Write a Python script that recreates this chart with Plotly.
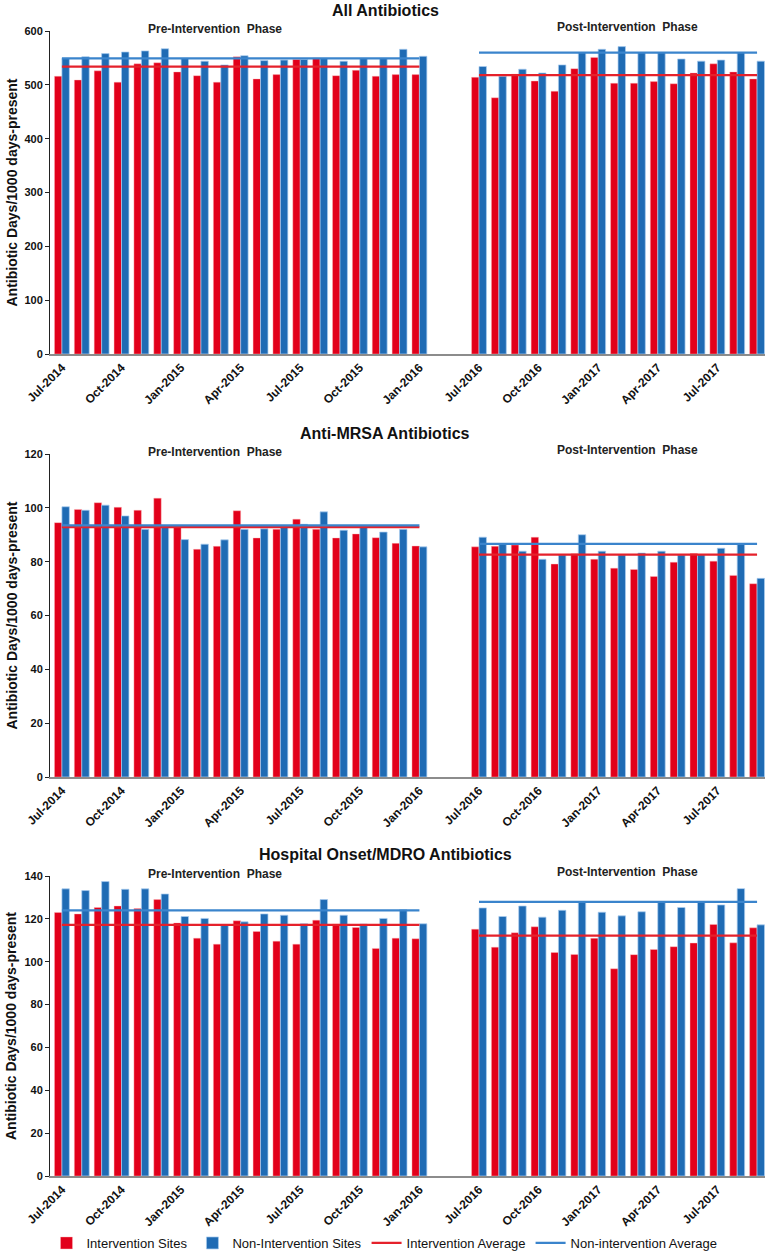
import plotly.graph_objects as go

# ---------------- data ----------------
pre_months = ["Jul-2014", "Aug-2014", "Sep-2014", "Oct-2014", "Nov-2014", "Dec-2014",
              "Jan-2015", "Feb-2015", "Mar-2015", "Apr-2015", "May-2015", "Jun-2015",
              "Jul-2015", "Aug-2015", "Sep-2015", "Oct-2015", "Nov-2015", "Dec-2015",
              "Jan-2016"]
post_months = ["Jul-2016", "Aug-2016", "Sep-2016", "Oct-2016", "Nov-2016", "Dec-2016",
               "Jan-2017", "Feb-2017", "Mar-2017", "Apr-2017", "May-2017", "Jun-2017",
               "Jul-2017", "Aug-2017", "Sep-2017"]

panel_titles = ["All Antibiotics", "Anti-MRSA Antibiotics", "Hospital Onset/MDRO Antibiotics"]
y_max = [600, 120, 140]
y_step = [100, 20, 20]

# All Antibiotics
all_int_pre = [516, 509, 526, 505, 539, 541, 524, 517, 505, 552, 511, 519, 547, 550, 517, 527, 516, 519, 519]
all_non_pre = [549, 552, 558, 561, 563, 567, 549, 544, 537, 554, 545, 546, 547, 549, 544, 549, 549, 566, 553]
all_int_post = [514, 476, 520, 507, 488, 530, 551, 503, 503, 506, 502, 522, 539, 524, 511]
all_non_post = [534, 516, 529, 522, 537, 560, 566, 571, 560, 560, 548, 544, 546, 560, 544]
all_avg = {"int_pre": 534, "non_pre": 549, "int_post": 518, "non_post": 560}

# Anti-MRSA Antibiotics
mrsa_int_pre = [94.5, 99.4, 101.9, 100.2, 99.1, 103.6, 93.2, 84.6, 85.7, 98.9, 88.8, 92.0, 95.8, 92.0, 88.8, 90.3, 88.9, 86.8, 85.8]
mrsa_non_pre = [100.4, 99.1, 101.0, 97.0, 92.0, 93.0, 88.2, 86.5, 88.1, 92.0, 92.2, 93.0, 93.9, 98.5, 91.7, 93.0, 91.0, 92.0, 85.5]
mrsa_int_post = [85.5, 85.7, 86.2, 89.1, 79.1, 82.9, 80.9, 77.6, 77.1, 74.5, 79.8, 83.0, 80.2, 74.9, 71.8]
mrsa_non_post = [89.1, 86.5, 83.9, 80.9, 82.5, 90.0, 83.9, 82.5, 83.2, 83.9, 82.5, 82.6, 85.0, 86.5, 73.8]
mrsa_avg = {"int_pre": 92.8, "non_pre": 93.5, "int_post": 82.6, "non_post": 86.6}

# Hospital Onset/MDRO Antibiotics
mdro_int_pre = [123.0, 122.3, 125.3, 126.0, 124.8, 129.0, 118.1, 111.0, 108.2, 119.1, 114.1, 109.6, 108.2, 119.4, 117.5, 116.0, 106.2, 111.0, 110.7]
mdro_non_pre = [134.0, 133.2, 137.4, 133.8, 134.0, 131.6, 121.1, 120.2, 117.2, 118.6, 122.3, 121.7, 117.7, 129.0, 121.7, 117.6, 120.2, 124.2, 117.7]
mdro_int_post = [115.2, 106.8, 113.5, 116.3, 104.3, 103.4, 110.9, 96.7, 103.3, 105.7, 107.0, 108.7, 117.4, 108.8, 115.8]
mdro_non_post = [125.1, 121.1, 126.0, 120.8, 124.0, 127.9, 123.1, 121.4, 123.3, 127.9, 125.3, 127.9, 126.5, 134.1, 117.2]
mdro_avg = {"int_pre": 117.2, "non_pre": 124.0, "int_post": 112.2, "non_post": 127.9}

panels = [
    (all_int_pre, all_non_pre, all_int_post, all_non_post, all_avg),
    (mrsa_int_pre, mrsa_non_pre, mrsa_int_post, mrsa_non_post, mrsa_avg),
    (mdro_int_pre, mdro_non_pre, mdro_int_post, mdro_non_post, mdro_avg),
]

# ---------------- styling / layout ----------------
RED = "#E2001A"
BLUE = "#1F6BB4"
RED_LINE = "#E5212B"
BLUE_LINE = "#3A84CC"
FONT = "Liberation Sans, Arial, sans-serif"
W, H = 769, 1252

GAP = 2  # empty slots between the two phases
pre_x = list(range(len(pre_months)))
post_x = [len(pre_months) + GAP + j for j in range(len(post_months))]
all_x = pre_x + post_x
all_labels = pre_months + post_months
tick_idx = [i for i in range(len(pre_months)) if i % 3 == 0] + \
           [len(pre_months) + j for j in range(len(post_months)) if j % 3 == 0]
tickvals = [all_x[i] for i in tick_idx]
ticktext = [all_labels[i] for i in tick_idx]

# pixel boxes of the three plot areas (top, bottom)
boxes = [(31, 354), (454, 777), (876, 1176)]
x_left, x_right = 50, 765
title_y = [10, 433, 854]
pre_lbl_y = [29, 452, 874]
post_lbl_y = [27, 450, 872]

fig = go.Figure()
legend_names = ["Intervention Sites", "Non-Intervention Sites", "Intervention Average", "Non-intervention Average"]

for p, (ip, nip, ipo, nipo, avg) in enumerate(panels):
    xa = "x" if p == 0 else f"x{p+1}"
    ya = "y" if p == 0 else f"y{p+1}"
    first = (p == 0)
    fig.add_trace(go.Bar(x=all_x, y=ip + ipo, name=legend_names[0], marker_color=RED,
                         marker_line=dict(color="rgba(255,190,190,0.7)", width=0.6),
                         xaxis=xa, yaxis=ya, showlegend=first, legendgroup="a", legendrank=1))
    fig.add_trace(go.Bar(x=all_x, y=nip + nipo, name=legend_names[1], marker_color=BLUE,
                         marker_line=dict(color="rgba(170,205,240,0.9)", width=0.8),
                         xaxis=xa, yaxis=ya, showlegend=first, legendgroup="b", legendrank=2))
    for key, xs, col, nm, grp, rank in [
        ("int_pre", pre_x, RED_LINE, legend_names[2], "c", 3),
        ("int_post", post_x, RED_LINE, legend_names[2], "c", 3),
        ("non_pre", pre_x, BLUE_LINE, legend_names[3], "d", 4),
        ("non_post", post_x, BLUE_LINE, legend_names[3], "d", 4),
    ]:
        fig.add_trace(go.Scatter(x=[xs[0], xs[-1]], y=[avg[key], avg[key]], mode="lines",
                                 line=dict(color=col, width=2.2), name=nm,
                                 xaxis=xa, yaxis=ya, legendgroup=grp, legendrank=rank,
                                 showlegend=(first and key.endswith("pre")), hoverinfo="skip"))

    top, bot = boxes[p]
    suffix = "" if p == 0 else str(p + 1)
    fig.layout["xaxis" + suffix] = dict(
        domain=[x_left / W, x_right / W], anchor=ya, range=[-0.6, all_x[-1] + 0.4],
        tickmode="array", tickvals=tickvals, ticktext=ticktext, tickangle=-45,
        showline=True, linecolor="#8c8c8c", linewidth=2, ticks="", showgrid=False,
        zeroline=False, automargin=False,
        tickfont=dict(family=FONT, size=12, color="#111", weight="bold"))
    fig.layout["yaxis" + suffix] = dict(
        domain=[1 - bot / H, 1 - top / H], anchor=xa, range=[0, y_max[p]], dtick=y_step[p],
        showline=True, linecolor="#222", linewidth=1, ticks="outside", ticklen=4,
        tickcolor="#222", showgrid=False, zeroline=False, automargin=False,
        tickfont=dict(family=FONT, size=11, color="#111", weight="bold"))

    fig.add_annotation(text="<b>" + panel_titles[p] + "</b>", x=385 / W, y=1 - title_y[p] / H,
                       xref="paper", yref="paper", showarrow=False, xanchor="center", yanchor="middle",
                       font=dict(family=FONT, size=16, color="#111"))
    fig.add_annotation(text="<b>Pre-Intervention  Phase</b>", x=215 / W, y=1 - pre_lbl_y[p] / H,
                       xref="paper", yref="paper", showarrow=False, xanchor="center", yanchor="middle",
                       font=dict(family=FONT, size=12, color="#222"))
    fig.add_annotation(text="<b>Post-Intervention  Phase</b>", x=627 / W, y=1 - post_lbl_y[p] / H,
                       xref="paper", yref="paper", showarrow=False, xanchor="center", yanchor="middle",
                       font=dict(family=FONT, size=12, color="#222"))
    fig.add_annotation(text="<b>Antibiotic Days/1000 days-present</b>", x=11 / W,
                       y=1 - (top + bot) / 2 / H, xref="paper", yref="paper", showarrow=False,
                       textangle=-90, xanchor="center", yanchor="middle",
                       font=dict(family=FONT, size=14, color="#111"))

fig.update_layout(
    width=W, height=H, margin=dict(l=0, r=0, t=0, b=0, autoexpand=False),
    paper_bgcolor="white", plot_bgcolor="white",
    barmode="group", bargap=0.25, bargroupgap=0,
    showlegend=True,
    legend=dict(orientation="h", x=0.5, xanchor="center", y=1 - 1243 / H, yanchor="middle",
                font=dict(family=FONT, size=13, color="#111"), itemwidth=30,
                traceorder="normal", bgcolor="rgba(0,0,0,0)"),
)

fig.write_html("out.html", config={"displayModeBar": False},
               post_script="document.body.style.margin='0';document.body.style.overflow='hidden';")
